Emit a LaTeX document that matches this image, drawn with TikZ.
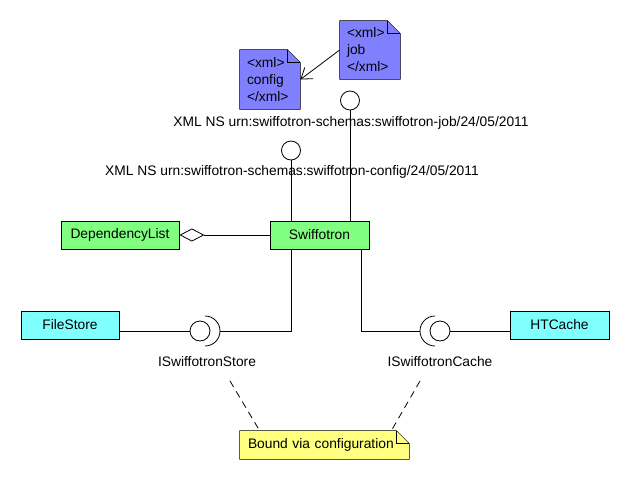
\documentclass[tikz,border=0pt]{standalone}
\usepackage{fontspec}
\setmainfont{Liberation Sans}
\usetikzlibrary{arrows.meta,backgrounds}

\definecolor{xmlblue}{HTML}{8080FF}
\definecolor{noteyellow}{HTML}{FFFF80}
\definecolor{classgreen}{HTML}{80FF80}
\definecolor{classcyan}{HTML}{80FFFF}

\begin{document}
\begin{tikzpicture}[x=1pt, y=-1pt, line width=0.8pt,
	font=\fontsize{13.8}{17}\selectfont,
	classbox/.style={draw, minimum height=28pt, inner sep=0pt},
	notebox/.style={align=left, inner ysep=0pt, inner xsep=7pt},
	lolli/.style={draw, circle, minimum size=19pt, inner sep=0pt},
	ball/.style={draw, circle, minimum size=20pt, inner sep=0pt},
	depline/.style={dash pattern=on 7pt off 5pt}]
		\useasboundingbox (0,0) rectangle (630,480);
		
		% Notes
		\node[notebox, text width=46pt, minimum height=59pt] (cfgnote) at (270,79.5) {<xml>\\config\\</xml>};
		\node[notebox, text width=46pt, minimum height=58pt] (jobnote) at (370,50) {<xml>\\job\\</xml>};
		\node[notebox, inner xsep=8pt, text width=153pt, minimum height=28pt] (boundnote) at (324.5,445) {Bound via configuration};
		\begin{scope}[on background layer]
			\foreach \n/\c in {cfgnote/xmlblue, jobnote/xmlblue, boundnote/noteyellow}
			{
				\draw[fill=\c] (\n.south west) |- ([xshift=-13pt]\n.north east) -- ([yshift=-13pt]\n.north east) -- (\n.south east) -- cycle;
				\draw ([xshift=-13pt]\n.north east) |- ([yshift=-13pt]\n.north east);
			}
		\end{scope}
		\draw[-{Straight Barb[length=10pt,width=14pt]}] (jobnote.west) -- (cfgnote.east);
		
		% Classes
		\node[classbox, fill=classgreen, minimum width=99pt] (swf) at (319.5,235) {Swiffotron};
		\node[classbox, fill=classgreen, minimum width=118pt] (deplist) at (120,235) {DependencyList};
		\node[classbox, fill=classcyan, minimum width=98pt] (filestore) at (70,325) {FileStore};
		\node[classbox, fill=classcyan, minimum width=99pt] (htcache) at (559.5,325) {HTCache};
		\draw[{Diamond[open,length=25pt,width=13pt]}-] (deplist.east) -- (swf.west);
		
		% Provided interfaces
		\node[lolli] (jobif) at (350,100.5) {};
		\node[lolli] (cfgif) at (291,150.5) {};
		\draw (jobif) -- (jobif |- swf.north);
		\draw (cfgif) -- (cfgif |- swf.north);
		\node (jobns) at (351,123) {XML NS urn:swiffotron-schemas:swiffotron-job/24/05/2011};
		\node (cfgns) at (292,172) {XML NS urn:swiffotron-schemas:swiffotron-config/24/05/2011};
		
		% Required interfaces
		\node[ball] (storeball) at (200,331) {};
		\node[ball] (cacheball) at (440,331) {};
		\draw (storeball) ++(5,-15) arc[start angle=-90, end angle=90, radius=15];
		\draw (cacheball) ++(-5,-15) arc[start angle=-90, end angle=-270, radius=15];
		\coordinate (storesock) at (220,331);
		\coordinate (cachesock) at (420,331);
		\draw (filestore.east |- storeball) -- (storeball.west);
		\draw (htcache.west |- cacheball) -- (cacheball.east);
		\draw (storesock) -| ([xshift=-28.5pt]swf.south);
		\draw (cachesock) -| ([xshift=41.5pt]swf.south);
		\node (storelbl) at (207,362) {ISwiffotronStore};
		\node (cachelbl) at (440,362) {ISwiffotronCache};
		
		% Binding note
		\coordinate (storetag) at (230,381);
		\coordinate (cachetag) at (420,381);
		\draw[depline] (storetag) -- ([xshift=20pt]boundnote.north west);
		\draw[depline] (cachetag) -- ([xshift=-18pt]boundnote.north east);
	\end{tikzpicture}
\end{document}
